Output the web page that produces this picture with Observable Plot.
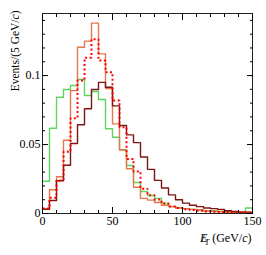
<!DOCTYPE html>
<html><head><meta charset="utf-8">
<script src="https://cdn.jsdelivr.net/npm/d3@7"></script>
<script src="https://cdn.jsdelivr.net/npm/@observablehq/plot@0.6"></script>
<style>body{margin:0;background:#fff}</style>
</head><body><div id="chart"></div>
<script>
// Bin lower edges (GeV/c), 5 GeV bins from 0 to 150
const binLow = [0,5,10,15,20,25,30,35,40,45,50,55,60,65,70,75,80,85,90,95,100,105,110,115,120,125,130,135,140,145];
const binHigh = 150;

const green = [0.0234,0.0618,0.0843,0.0899,0.0928,0.0971,0.0855,0.0884,0.0826,0.0614,0.0553,0.0462,0.0348,0.0225,0.0160,0.0130,0.0110,0.0075,0.0050,0.0042,0.0035,0.0030,0.0025,0.0020,0.0020,0.0015,0.0015,0.0010,0.0010,0.0040];
const orange = [0.0035,0.0172,0.0266,0.0531,0.0891,0.1205,0.1250,0.1380,0.1157,0.0906,0.0650,0.0460,0.0324,0.0190,0.0110,0.0097,0.0080,0.0060,0.0050,0.0040,0.0035,0.0030,0.0025,0.0020,0.0015,0.0015,0.0010,0.0010,0.0010,0.0008];
const redDotted = [0.0036,0.0114,0.0240,0.0447,0.0690,0.0964,0.1130,0.1264,0.1110,0.1024,0.0819,0.0625,0.0396,0.0305,0.0180,0.0133,0.0101,0.0072,0.0050,0.0040,0.0030,0.0025,0.0020,0.0015,0.0012,0.0010,0.0010,0.0008,0.0008,0.0006];
const darkRed = [0.0030,0.0094,0.0237,0.0350,0.0507,0.0643,0.0759,0.0899,0.0951,0.0915,0.0780,0.0638,0.0570,0.0514,0.0410,0.0320,0.0240,0.0185,0.0135,0.0100,0.0075,0.0060,0.0050,0.0040,0.0035,0.0030,0.0020,0.0015,0.0010,0.0010];

const xMajor = [0,50,100,150];
const xMinor = [0,10,20,30,40,50,60,70,80,90,100,110,120,130,140,150];
const yMajor = [0,0.05,0.1];
const yMinor = [0,0.01,0.02,0.03,0.04,0.05,0.06,0.07,0.08,0.09,0.1,0.11,0.12,0.13,0.14];
const yTitle = "Events/(5 GeV/c)";
const xTitle = "ET (GeV/c)";

const steps = (vals) => [...binLow.map((x,i)=>({x, y: vals[i]})), {x: binHigh, y: vals[vals.length-1]}];

const noLabel = () => "";
const ax = (o) => ({label: null, ...o});
const chart = Plot.plot({
  width: 266, height: 255,
  marginLeft: 42, marginRight: 14, marginTop: 13, marginBottom: 42,
  style: {fontFamily: "'Liberation Serif', serif", fontSize: "12px", color: "black", background: "white"},
  x: {domain: [0,150]},
  y: {domain: [0,0.145]},
  marks: [
    Plot.line(steps(green), {x:"x", y:"y", curve:"step-after", stroke:"#5fd35f", strokeWidth:1.4}),
    Plot.line(steps(orange), {x:"x", y:"y", curve:"step-after", stroke:"#e5774a", strokeWidth:1.4}),
    Plot.line(steps(darkRed), {x:"x", y:"y", curve:"step-after", stroke:"#7d1515", strokeWidth:1.4}),
    Plot.line(steps(redDotted), {x:"x", y:"y", curve:"step-after", stroke:"#ff0000", strokeWidth:2, strokeDasharray:"2,2.5", strokeLinecap:"butt", strokeLinejoin:"miter"}),
    Plot.frame({stroke:"#222"}),
    Plot.axisX(ax({ticks: xMinor, anchor:"bottom", tickSize:-3, tickFormat:noLabel})),
    Plot.axisX(ax({ticks: xMajor, anchor:"bottom", tickSize:-6, tickFormat:noLabel})),
    Plot.axisX(ax({ticks: xMinor, anchor:"top", tickSize:-3, tickFormat:noLabel})),
    Plot.axisX(ax({ticks: xMajor, anchor:"top", tickSize:-6, tickFormat:noLabel})),
    Plot.axisY(ax({ticks: yMinor, anchor:"left", tickSize:-3, tickFormat:noLabel})),
    Plot.axisY(ax({ticks: yMajor, anchor:"left", tickSize:-6, tickFormat:noLabel})),
    Plot.axisY(ax({ticks: yMinor, anchor:"right", tickSize:-3, tickFormat:noLabel})),
    Plot.axisY(ax({ticks: yMajor, anchor:"right", tickSize:-6, tickFormat:noLabel})),
    Plot.axisX(ax({ticks: xMajor, anchor:"bottom", tickSize:0, tickPadding:3, tickFormat: d => String(d)})),
    Plot.axisY(ax({ticks: yMajor, anchor:"left", tickSize:0, tickPadding:2, tickFormat: d => String(d)})),
    Plot.text([yTitle], {text: d => d, frameAnchor:"top-left", rotate:-90, textAnchor:"end", dx:-32, dy:-3, fontSize:11.5, className:"ytitle"}),
    Plot.text([xTitle], {text: d => d, frameAnchor:"bottom-right", textAnchor:"end", dx:-1, dy:28, className:"xtitle"})
  ]
});
document.getElementById("chart").appendChild(chart);

// italic "c" in the titles, slashed E with subscript T
const svg = d3.select(chart);
svg.selectAll("g.ytitle text").each(function(){
  const t = d3.select(this); t.text(null);
  t.append("tspan").text("Events/(5 GeV/");
  t.append("tspan").attr("font-style","italic").text("c");
  t.append("tspan").text(")");
});
svg.selectAll("g.xtitle text").each(function(){
  const t = d3.select(this); t.text(null);
  t.append("tspan").attr("font-style","italic").text("E");
  t.append("tspan").attr("dx", -6).text("/");
  t.append("tspan").attr("font-style","italic").attr("font-size", 8).attr("dy", 3).text("T");
  t.append("tspan").attr("dy", -3).text(" (GeV/");
  t.append("tspan").attr("font-style","italic").text("c");
  t.append("tspan").text(")");
});
</script>
</body></html>
